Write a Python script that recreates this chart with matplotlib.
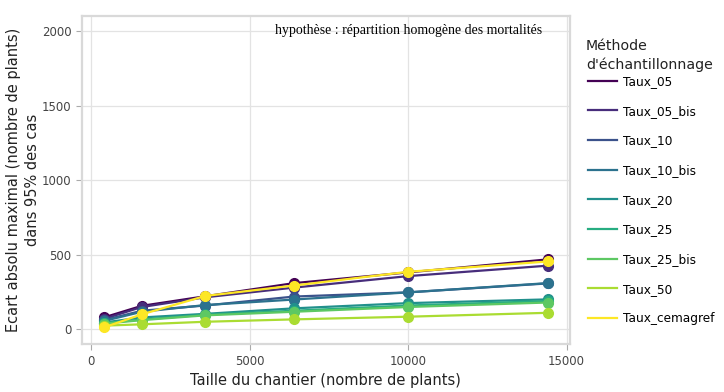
import matplotlib
matplotlib.use("Agg")
import matplotlib.pyplot as plt

# --- Données ---
taille = [400, 1600, 3600, 6400, 10000, 14400]

methodes = ["Taux_05", "Taux_05_bis", "Taux_10", "Taux_10_bis", "Taux_20",
            "Taux_25", "Taux_25_bis", "Taux_50", "Taux_cemagref"]

taux_05 = [80, 158, 222, 310, 382, 469]
taux_05_bis = [70, 150, 215, 280, 357, 427]
taux_10 = [62, 125, 160, 220, 248, 308]
taux_10_bis = [56, 118, 163, 200, 248, 310]
taux_20 = [46, 80, 104, 141, 176, 201]
taux_25 = [42, 66, 98, 125, 160, 190]
taux_25_bis = [38, 62, 94, 118, 150, 180]
taux_50 = [25, 34, 51, 67, 85, 111]
taux_cemagref = [13, 101, 224, 294, 386, 455]

series = [taux_05, taux_05_bis, taux_10, taux_10_bis, taux_20,
          taux_25, taux_25_bis, taux_50, taux_cemagref]

couleurs = ["#440154", "#472D7B", "#3B528B", "#2C728E", "#21908C",
            "#27AD81", "#5DC863", "#AADC32", "#FDE725"]

plt.rcParams['font.family'] = ['DejaVu Sans']

fig = plt.figure(figsize=(7.24, 3.92), dpi=100)
ax = fig.add_axes([0.1128, 0.1217, 0.787 - 0.1128, 0.959 - 0.1217])

for nom, y, c in zip(methodes, series, couleurs):
    ax.plot(taille, y, color=c, lw=1.6, marker='o', markersize=7,
            label=nom, zorder=3)

ax.set_xlim(-300, 15100)
ax.set_ylim(-100, 2100)
ax.set_xticks([0, 5000, 10000, 15000])
ax.set_yticks([0, 500, 1000, 1500, 2000])

ax.grid(True, color="#E3E3E3", lw=0.9)
ax.set_axisbelow(True)
for s in ax.spines.values():
    s.set_color("#D9D9D9")
    s.set_linewidth(1.6)
ax.tick_params(colors="#AAAAAA", labelcolor="#444444", labelsize=8.5, length=4, width=0.8)

ax.set_xlabel("Taille du chantier (nombre de plants)", fontsize=10.5, color="#222222",
              labelpad=4)
ax.set_ylabel("Ecart absolu maximal (nombre de plants)\ndans 95% des cas",
              fontsize=10.5, color="#222222", linespacing=1.3,
              multialignment="center")
ax.yaxis.set_label_coords(-0.086, 0.5)

ax.text(10000, 2000, "hypothèse : répartition homogène des mortalités",
        family="Liberation Serif", fontsize=10, ha="center", va="center", color="black")

# --- Légende (titre à part) ---
fig.text(586 / 724, 1 - 39 / 392, "Méthode\nd'échantillonnage", fontsize=10.2,
         color="#222222", ha="left", va="top", linespacing=1.4)
labels = ax.get_legend_handles_labels()[1]
leg = fig.legend([plt.Line2D([], [], color=c, lw=1.6) for c in couleurs], labels,
                 loc="upper left", bbox_to_anchor=(588 / 724, 1 - 75 / 392),
                 frameon=False, fontsize=8.7, handlelength=2.4, handletextpad=0.5,
                 labelspacing=1.38, borderaxespad=0, borderpad=0)

plt.savefig("out.png", dpi=100)
plt.close()
